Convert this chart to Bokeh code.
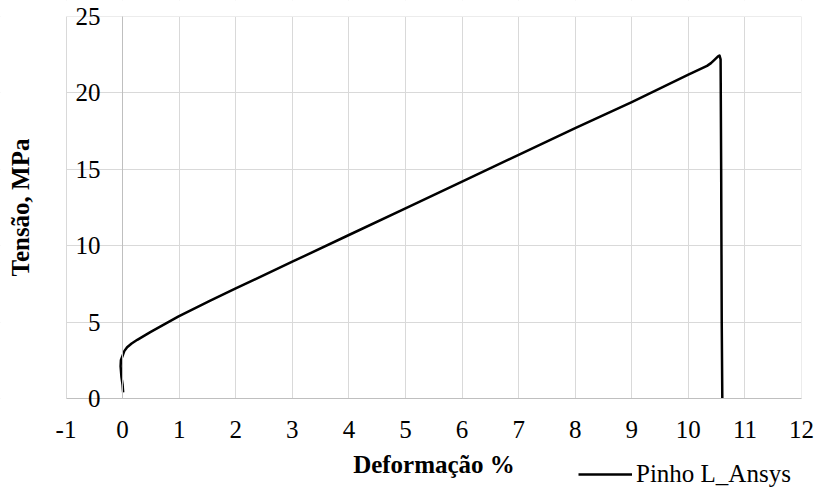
from bokeh.plotting import figure
from bokeh.models import (Range1d, SingleIntervalTicker, Legend, LegendItem,
                          BoxAnnotation, CustomJSTickFormatter)
from bokeh.embed import file_html
from bokeh.resources import INLINE

# ---- data ----
strain = [0.01, 0.0, -0.02, -0.035, -0.03, 0.0, 0.03, 0.08, 0.16, 0.26, 0.49, 0.99,
          1.55, 2.0, 3.0, 4.0, 5.0, 6.0, 7.0, 8.0, 9.0, 10.0, 10.33,
          10.4, 10.47, 10.52, 10.55, 10.57, 10.58, 10.59, 10.6]
stress = [0.4, 0.9, 1.4, 2.1, 2.5, 2.8, 3.1, 3.36, 3.6, 3.84, 4.34, 5.37,
          6.41, 7.2, 8.95, 10.7, 12.45, 14.2, 15.95, 17.7, 19.4, 21.2, 21.77,
          21.95, 22.2, 22.38, 22.45, 22.2, 15.0, 5.0, 0.0]
series_name = "Pinho L_Ansys"
x_title = "Deformação %"
y_title = "Tensão, MPa"
x_bounds = (-1, 12)
y_bounds = (0, 25)

FONT = "Liberation Serif"
FS = "25px"

# The frame fills the whole canvas; the plot area (-1..12, 0..25) sits inside it.
p = figure(width=819, height=492, output_backend="svg", toolbar_location=None,
           x_range=Range1d(-2.158, 12.318), y_range=Range1d(-6.152, 26.047),
           min_border_left=0, min_border_right=0, min_border_top=0, min_border_bottom=0)
p.outline_line_color = None
p.background_fill_color = "white"
p.border_fill_color = "white"

fmt = CustomJSTickFormatter(code="return tick.toString();")

# horizontal axis crossing at y = 0
xa = p.xaxis[0]
xa.fixed_location = 0
xa.bounds = x_bounds
xa.ticker = SingleIntervalTicker(interval=1)
xa.formatter = fmt
xa.axis_line_color = "#bfbfbf"
xa.axis_line_width = 1
xa.major_tick_out = 0
xa.major_tick_in = 0
xa.minor_tick_out = 0
xa.minor_tick_in = 0
xa.major_label_standoff = 23
xa.major_label_text_font = FONT
xa.major_label_text_font_size = FS
xa.major_label_text_color = "black"
xa.axis_label = x_title
xa.axis_label_text_font = FONT
xa.axis_label_text_font_size = FS
xa.axis_label_text_font_style = "bold"
xa.axis_label_text_color = "black"
xa.axis_label_standoff = 9

# vertical axis crossing at x = 0
ya = p.yaxis[0]
ya.fixed_location = 0
ya.bounds = y_bounds
ya.ticker = SingleIntervalTicker(interval=5)
ya.formatter = fmt
ya.axis_line_color = "#bfbfbf"
ya.axis_line_width = 1
ya.major_tick_out = 0
ya.major_tick_in = 0
ya.minor_tick_out = 0
ya.minor_tick_in = 0
ya.major_label_standoff = 22
ya.major_label_text_font = FONT
ya.major_label_text_font_size = FS
ya.major_label_text_color = "black"
ya.axis_label = y_title
ya.axis_label_text_font = FONT
ya.axis_label_text_font_size = FS
ya.axis_label_text_font_style = "bold"
ya.axis_label_text_color = "black"
ya.axis_label_standoff = 39

p.xgrid.ticker = SingleIntervalTicker(interval=1)
p.ygrid.ticker = SingleIntervalTicker(interval=5)
p.xgrid.bounds = x_bounds
p.ygrid.bounds = y_bounds
p.xgrid.grid_line_color = "#d9d9d9"
p.ygrid.grid_line_color = "#d9d9d9"
p.xgrid.grid_line_width = 1
p.ygrid.grid_line_width = 1

# white masks so grid lines stop at the plot-area edges
for kw in (dict(top=y_bounds[0]), dict(bottom=y_bounds[1]),
           dict(right=x_bounds[0]), dict(left=x_bounds[1])):
    p.add_layout(BoxAnnotation(fill_color="white", fill_alpha=1, line_color=None,
                               level="underlay", **kw))

r = p.line(strain, stress, line_color="black", line_width=2.5, line_join="round")

legend = Legend(items=[LegendItem(label=series_name, renderers=[r])],
                location=(578, 4), orientation="horizontal",
                glyph_width=54, glyph_height=20, label_standoff=4,
                padding=0, margin=0, spacing=0,
                label_text_font=FONT, label_text_font_size=FS, label_text_color="black",
                border_line_color=None, background_fill_alpha=0)
p.add_layout(legend, "center")

open("out.html", "w").write(file_html(p, INLINE))
